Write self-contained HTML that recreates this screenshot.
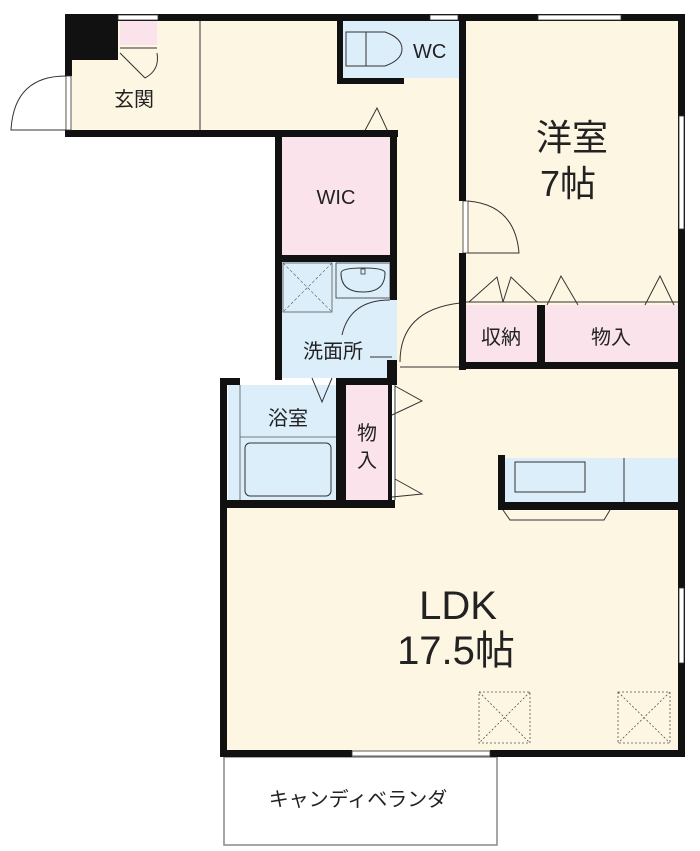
<!DOCTYPE html>
<html><head><meta charset="utf-8"><style>
html,body{margin:0;padding:0;background:#fff;}
svg{display:block}
text{font-family:"Liberation Sans","Noto Sans CJK JP",sans-serif;fill:#222}
</style></head><body>
<svg width="700" height="851" viewBox="0 0 700 851" xmlns="http://www.w3.org/2000/svg">
<!-- floors -->
<rect x="65" y="14" width="620" height="123" fill="#fdf6e3"/>
<rect x="390" y="130" width="72" height="245" fill="#fdf6e3"/>
<rect x="462" y="14" width="223" height="360" fill="#fdf6e3"/>
<rect x="397" y="365" width="288" height="392" fill="#fdf6e3"/>
<rect x="220" y="500" width="465" height="257" fill="#fdf6e3"/>
<!-- genkan shoe closet -->
<rect x="120" y="21" width="37" height="24" fill="#fbe3ec"/>
<line x1="120" y1="48" x2="157" y2="48" stroke="#333" stroke-width="1"/>
<line x1="120" y1="53" x2="145" y2="78" stroke="#333" stroke-width="1"/>
<path d="M157 53 Q160 70 145 78" fill="none" stroke="#333" stroke-width="1"/>
<line x1="200" y1="21" x2="200" y2="130" stroke="#333" stroke-width="1"/>
<text x="134" y="106" font-size="20" text-anchor="middle">玄関</text>
<!-- WC -->
<rect x="343" y="21" width="117" height="57" fill="#dceefa"/>
<rect x="346" y="32" width="20" height="34" fill="#dceefa" stroke="#333" stroke-width="1"/>
<path d="M366 32 H385 Q402 38 402 49 Q402 60 385 66 H366" fill="none" stroke="#333" stroke-width="1"/>
<text x="413" y="58" font-size="20">WC</text>
<!-- WIC -->
<rect x="282" y="137" width="108" height="118" fill="#fbe3ec"/>
<text x="336" y="204" font-size="20" text-anchor="middle">WIC</text>
<!-- 洗面所 -->
<rect x="282" y="262" width="115" height="116" fill="#dceefa"/>
<rect x="283" y="263" width="49" height="49" fill="none" stroke="#555" stroke-width="0.8"/>
<line x1="283" y1="263" x2="332" y2="312" stroke="#555" stroke-width="0.6" stroke-dasharray="3,2"/>
<line x1="332" y1="263" x2="283" y2="312" stroke="#555" stroke-width="0.6" stroke-dasharray="3,2"/>
<rect x="336" y="263" width="54" height="35" fill="none" stroke="#333" stroke-width="0.8"/>
<path d="M341 273 Q341 268 363 268 Q385 268 385 273 Q385 292 363 292 Q341 292 341 273Z" fill="none" stroke="#333" stroke-width="1"/>
<rect x="361" y="269" width="4" height="5" fill="none" stroke="#333" stroke-width="0.8"/>
<path d="M390 300 Q350 300 342 335" fill="none" stroke="#333" stroke-width="1"/>
<line x1="370" y1="357" x2="392" y2="357" stroke="#333" stroke-width="1"/>
<text x="333" y="358" font-size="20" text-anchor="middle">洗面所</text>
<!-- bath -->
<rect x="228" y="385" width="108" height="115" fill="#dceefa"/>
<line x1="240" y1="385" x2="240" y2="500" stroke="#555" stroke-width="0.8"/>
<line x1="240" y1="437" x2="336" y2="437" stroke="#555" stroke-width="0.8"/>
<rect x="245" y="443" width="86" height="53" rx="5" fill="none" stroke="#333" stroke-width="1"/>
<text x="288" y="425" font-size="20" text-anchor="middle">浴室</text>
<path d="M312 378 L322 402 L332 378" fill="none" stroke="#333" stroke-width="1"/>
<rect x="346" y="385" width="42" height="115" fill="#fbe3ec"/>
<text x="367" y="440" font-size="20" text-anchor="middle">物</text>
<text x="367" y="467" font-size="20" text-anchor="middle">入</text>
<line x1="395" y1="385" x2="395" y2="500" stroke="#333" stroke-width="1"/>
<path d="M392 415 L422 401 L395 386" fill="none" stroke="#333" stroke-width="1"/>
<path d="M392 497 L422 494 L395 479" fill="none" stroke="#333" stroke-width="1"/>
<!-- hall door to LDK -->
<path d="M400 362 Q400 310 460 303" fill="none" stroke="#333" stroke-width="1"/>
<line x1="400" y1="367" x2="460" y2="367" stroke="#333" stroke-width="1"/>
<!-- hall door arrow top -->
<path d="M362 136 L377 108 L390 136" fill="none" stroke="#333" stroke-width="1"/>
<!-- 洋室 -->
<text x="572" y="150" font-size="36" text-anchor="middle">洋室</text>
<text x="568" y="196" font-size="36" text-anchor="middle">7帖</text>
<rect x="463" y="201" width="5" height="52" fill="#fff" stroke="#333" stroke-width="0.8"/>
<path d="M468 201 Q515 205 519 253 H468" fill="none" stroke="#333" stroke-width="1"/>
<rect x="466" y="305" width="71" height="57" fill="#fbe3ec"/>
<rect x="545" y="305" width="133" height="57" fill="#fbe3ec"/>
<line x1="466" y1="302" x2="678" y2="302" stroke="#333" stroke-width="1"/>
<path d="M469 302 L497 277 L503 302 M503 302 L511 277 L537 302" fill="none" stroke="#333" stroke-width="1"/>
<path d="M547 305 L561 276 L578 305" fill="none" stroke="#333" stroke-width="1"/>
<path d="M645 305 L660 276 L674 305" fill="none" stroke="#333" stroke-width="1"/>
<text x="501" y="344" font-size="20" text-anchor="middle">収納</text>
<text x="611" y="344" font-size="20" text-anchor="middle">物入</text>
<!-- kitchen -->
<rect x="505" y="458" width="173" height="44" fill="#dceefa"/>
<rect x="515" y="462" width="70" height="30" fill="none" stroke="#333" stroke-width="1"/>
<line x1="624" y1="458" x2="624" y2="502" stroke="#333" stroke-width="1"/>
<path d="M503 510 L510 520 H604 L610 510" fill="none" stroke="#333" stroke-width="1"/>
<!-- LDK -->
<text x="458" y="619" font-size="40" text-anchor="middle">LDK</text>
<text x="456" y="664" font-size="40" text-anchor="middle">17.5帖</text>
<g fill="none" stroke="#555" stroke-width="0.8" stroke-dasharray="2,2">
<rect x="479" y="692" width="51" height="51"/><line x1="479" y1="692" x2="530" y2="743"/><line x1="530" y1="692" x2="479" y2="743"/>
<rect x="618" y="692" width="52" height="51"/><line x1="618" y1="692" x2="670" y2="743"/><line x1="670" y1="692" x2="618" y2="743"/>
</g>
<!-- veranda -->
<rect x="224" y="757" width="273" height="88" fill="#fff" stroke="#888" stroke-width="1.5"/>
<text x="358" y="806" font-size="20" text-anchor="middle">キャンディベランダ</text>
<!-- entrance door -->
<path d="M66 76 Q14 76 11 130 H66" fill="none" stroke="#333" stroke-width="1"/>
<!-- walls -->
<g fill="#111">
<rect x="65" y="14" width="620" height="7"/>
<rect x="65" y="14" width="53" height="46"/>
<rect x="65" y="14" width="7" height="62"/>
<rect x="65" y="130" width="333" height="7"/>
<rect x="337" y="14" width="6" height="70"/>
<rect x="337" y="78" width="67" height="6"/>
<rect x="459" y="14" width="7" height="187"/>
<rect x="459" y="253" width="7" height="117"/>
<rect x="678" y="14" width="7" height="743"/>
<rect x="275" y="130" width="7" height="250"/>
<rect x="390" y="130" width="7" height="170"/>
<rect x="282" y="255" width="110" height="7"/>
<rect x="387" y="360" width="10" height="25"/>
<rect x="220" y="378" width="7" height="379"/>
<rect x="220" y="378" width="20" height="7"/>
<rect x="336" y="378" width="61" height="7"/>
<rect x="336" y="385" width="10" height="115"/>
<rect x="388" y="385" width="4" height="120"/>
<rect x="220" y="500" width="175" height="8"/>
<rect x="459" y="362" width="226" height="7"/>
<rect x="537" y="305" width="8" height="60"/>
<rect x="498" y="455" width="7" height="55"/>
<rect x="498" y="502" width="187" height="8"/>
<rect x="220" y="750" width="132" height="7"/>
<rect x="490" y="750" width="195" height="7"/>
</g>
<!-- windows -->
<g fill="#fff" stroke="#333" stroke-width="0.8">
<rect x="118" y="15" width="40" height="5"/>
<rect x="430" y="15" width="28" height="5"/>
<rect x="538" y="15" width="83" height="5"/>
<rect x="679" y="116" width="5" height="113"/>
<rect x="679" y="588" width="5" height="75"/>
<rect x="352" y="751" width="138" height="5"/>
<rect x="66" y="76" width="5" height="54"/>
</g>
</svg>
</body></html>
